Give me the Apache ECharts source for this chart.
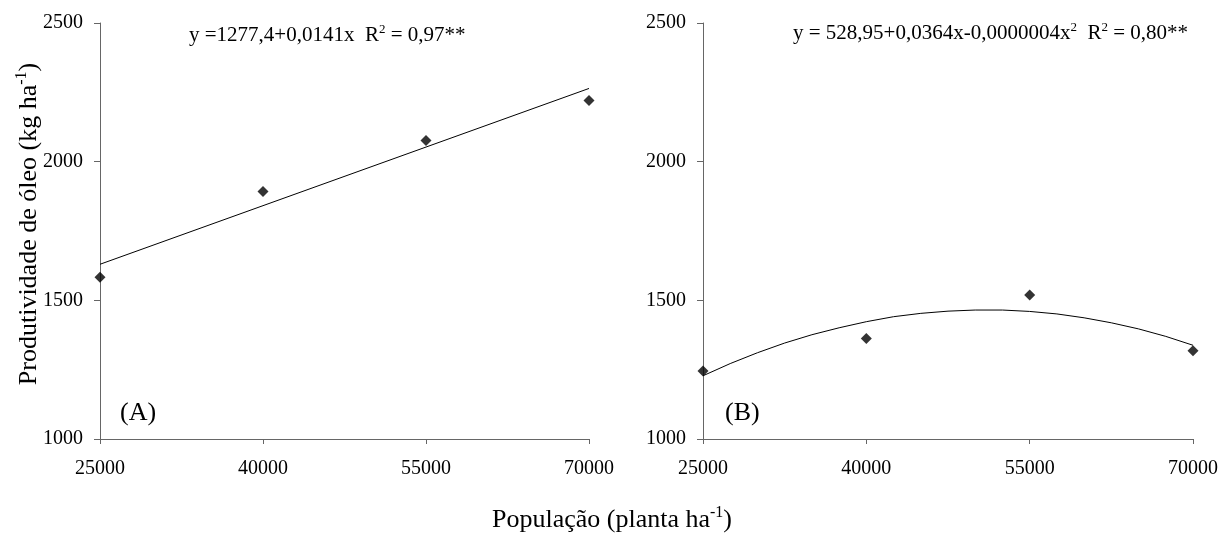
<!DOCTYPE html>
<html>
<head>
<meta charset="utf-8">
<script src="https://cdn.jsdelivr.net/npm/echarts@6/dist/echarts.min.js"></script>
<style>
  html, body { margin: 0; padding: 0; background: #fff; }
  #chart { width: 1224px; height: 535px; }
</style>
</head>
<body>
<div id="chart"></div>
<script>
// População de plantas (planta ha-1) e produtividade de óleo (kg ha-1)
const populacao = [25000, 40000, 55000, 70000];
const oleoA = [1583, 1892, 2076, 2221];
const oleoB = [1245, 1362, 1519, 1318];

// Reta ajustada (A): extremos da reta y = 1277,4 + 0,0141x
const retaA_x = [25000, 70000];
const retaA_y = [1630, 2264];

// Curva ajustada (B), lida ponto a ponto
const curvaB_x = [25000, 27500, 30000, 32500, 35000, 37500, 40000, 42500, 45000, 47500,
                  50000, 52500, 55000, 57500, 60000, 62500, 65000, 67500, 70000];
const curvaB_y = [1228, 1272, 1311, 1346, 1376, 1401, 1423, 1441, 1453, 1461,
                  1465, 1465, 1460, 1451, 1437, 1419, 1397, 1370, 1338];

const xTicks = [25000, 40000, 55000, 70000];
const yTicks = [1000, 1500, 2000, 2500];

const FONT = "'Liberation Serif', 'Times New Roman', serif";

function pares(xs, ys) { return xs.map((x, i) => [x, ys[i]]); }
function semSeparador(v) { return String(v); }

function eixoX(idx) {
  return {
    type: 'value', gridIndex: idx,
    min: xTicks[0], max: xTicks[xTicks.length - 1],
    splitLine: { show: false },
    axisLine: { lineStyle: { color: '#666', width: 1 } },
    axisTick: { show: true, length: 5, customValues: xTicks, lineStyle: { color: '#666' } },
    axisLabel: { customValues: xTicks, formatter: semSeparador, margin: 20,
                 color: '#000', fontFamily: FONT, fontSize: 20 }
  };
}
function eixoY(idx) {
  return {
    type: 'value', gridIndex: idx,
    min: yTicks[0], max: yTicks[yTicks.length - 1], interval: 500,
    splitLine: { show: false },
    axisLine: { show: true, lineStyle: { color: '#666', width: 1 } },
    axisTick: { show: true, length: 6, lineStyle: { color: '#666' } },
    axisLabel: { formatter: semSeparador, margin: 17, color: '#000', fontFamily: FONT, fontSize: 20 }
  };
}

const richEq = {
  n: { fontFamily: FONT, fontSize: 21, lineHeight: 24, color: '#000' },
  s: { fontFamily: FONT, fontSize: 13, lineHeight: 6, verticalAlign: 'top', color: '#000' }
};
const richTitle = {
  n: { fontFamily: FONT, fontSize: 26, lineHeight: 30, color: '#000' },
  s: { fontFamily: FONT, fontSize: 16, lineHeight: 6, verticalAlign: 'top', color: '#000' }
};

const chart = echarts.init(document.getElementById('chart'), null, { renderer: 'canvas' });
chart.setOption({
  backgroundColor: '#fff',
  animation: false,
  grid: [
    { left: 100, right: 635, top: 23, bottom: 96 },
    { left: 703, right: 31, top: 23, bottom: 96 }
  ],
  xAxis: [eixoX(0), eixoX(1)],
  yAxis: [eixoY(0), eixoY(1)],
  series: [
    {
      type: 'line', xAxisIndex: 0, yAxisIndex: 0,
      data: pares(retaA_x, retaA_y), showSymbol: false,
      lineStyle: { color: '#000', width: 1 }, z: 2
    },
    {
      type: 'scatter', xAxisIndex: 0, yAxisIndex: 0,
      data: pares(populacao, oleoA), symbol: 'diamond', symbolSize: 11,
      itemStyle: { color: '#000' }, z: 3
    },
    {
      type: 'line', xAxisIndex: 1, yAxisIndex: 1,
      data: pares(curvaB_x, curvaB_y), showSymbol: false,
      lineStyle: { color: '#000', width: 1 }, z: 2
    },
    {
      type: 'scatter', xAxisIndex: 1, yAxisIndex: 1,
      data: pares(populacao, oleoB), symbol: 'diamond', symbolSize: 11,
      itemStyle: { color: '#000' }, z: 3
    }
  ],
  graphic: [
    {
      type: 'text', left: 189, top: 23,
      style: { text: '{n|y =1277,4+0,0141x  R}{s|2}{n| = 0,97**}', rich: richEq }
    },
    {
      type: 'text', left: 793, top: 21,
      style: { text: '{n|y = 528,95+0,0364x-0,0000004x}{s|2}{n|  R}{s|2}{n| = 0,80**}', rich: richEq }
    },
    {
      type: 'text', left: 120, top: 400,
      style: { text: '(A)', fontFamily: FONT, fontSize: 26, fill: '#000' }
    },
    {
      type: 'text', left: 725, top: 400,
      style: { text: '(B)', fontFamily: FONT, fontSize: 26, fill: '#000' }
    },
    {
      type: 'text', x: 612, y: 520,
      style: {
        text: '{n|População (planta ha}{s|-1}{n|)}', rich: richTitle,
        align: 'center', verticalAlign: 'middle'
      }
    },
    {
      type: 'text', x: 29, y: 224, rotation: Math.PI / 2,
      style: {
        text: '{n|Produtividade de óleo (kg ha}{s|-1}{n|)}', rich: richTitle,
        align: 'center', verticalAlign: 'middle'
      }
    }
  ]
});
</script>
</body>
</html>
